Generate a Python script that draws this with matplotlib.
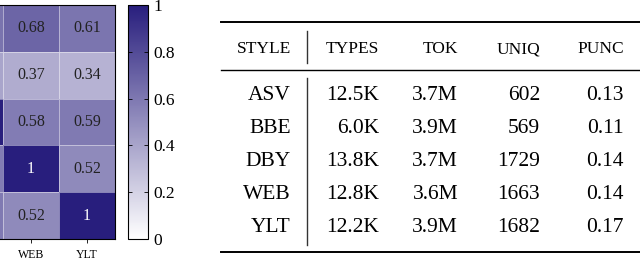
import numpy as np
import matplotlib.pyplot as plt
from matplotlib.colors import LinearSegmentedColormap

plt.rcParams['font.family'] = ['Liberation Serif', 'DejaVu Serif']

# heatmap (only the right end of a wider matrix is visible)
hm_cols = ["DBY", "WEB", "YLT"]
hm_rows = ["ASV", "BBE", "DBY", "WEB", "YLT"]
hm_vals = np.array([
    [0.62, 0.68, 0.61],
    [0.40, 0.37, 0.34],
    [1.00, 0.58, 0.59],
    [0.58, 1.00, 0.52],
    [0.59, 0.52, 1.00],
])

# table
tab_header = ["STYLE", "TYPES", "TOK", "UNIQ", "PUNC"]
tab_style = ["ASV", "BBE", "DBY", "WEB", "YLT"]
tab_types = ["12.5K", "6.0K", "13.8K", "12.8K", "12.2K"]
tab_tok = ["3.7M", "3.9M", "3.7M", "3.6M", "3.9M"]
tab_uniq = ["602", "569", "1729", "1663", "1682"]
tab_punc = ["0.13", "0.11", "0.14", "0.14", "0.17"]

W, H = 640, 260
fig = plt.figure(figsize=(W / 100, H / 100), dpi=100)

cmap = LinearSegmentedColormap.from_list("wp", ["#ffffff", (40/255, 30/255, 125/255)])

# heatmap axes; the first column is mostly cut off on the left
x_left = 1 - 3 / 56
ax = fig.add_axes([0, 21 / H, 115 / W, 234 / H])
mesh = ax.pcolormesh(np.arange(len(hm_cols) + 1), np.arange(len(hm_rows) + 1), hm_vals,
                     cmap=cmap, vmin=0, vmax=1, edgecolors=(1, 1, 1, 0.45), linewidth=0.6)
visible = [j for j in range(len(hm_cols)) if j + 0.5 > x_left]
for i in range(len(hm_rows)):
    for j in visible:
        v = hm_vals[i, j]
        s = "1" if v == 1 else f"{v:.2f}"
        ax.text(j + 0.5, i + 0.5, s, ha="center", va="center", fontsize=11.5,
                color="white" if v > 0.8 else "#222222")
ax.set_xticks([j + 0.5 for j in visible])
ax.set_xticklabels([hm_cols[j] for j in visible], fontsize=8.5)
ax.set_yticks([])
ax.set_xlim(x_left, len(hm_cols))
ax.set_ylim(len(hm_rows), 0)
ax.tick_params(axis="x", length=3, width=0.6, pad=4)
ax.spines["left"].set_visible(False)
for s in ["top", "right", "bottom"]:
    ax.spines[s].set_linewidth(0.8)

# colorbar
cax = fig.add_axes([128 / W, 21 / H, 20 / W, 234 / H])
cb = fig.colorbar(mesh, cax=cax, ticks=[0, 0.2, 0.4, 0.6, 0.8, 1])
cb.ax.set_yticklabels(["0", "0.2", "0.4", "0.6", "0.8", "1"], fontsize=12.5)
cb.ax.tick_params(direction="in", left=True, right=True, length=3, width=0.6, pad=4)
cb.outline.set_linewidth(0.8)

# table axes in pixel units
tx = fig.add_axes([0, 0, 1, 1])
tx.set_xlim(0, W)
tx.set_ylim(H, 0)
tx.axis("off")

col_right = [291, 379, 458, 540, 624]
header_y = 49
row_y0, row_dy = 96, 32.8
vline_x = 307

tx.plot([221, W], [22, 22], color="black", lw=1.4)
tx.plot([221, W], [70, 70], color="black", lw=1.0)
tx.plot([221, W], [252, 252], color="black", lw=1.4)
tx.plot([vline_x, vline_x], [31, 63], color="#333333", lw=1.0)
tx.plot([vline_x, vline_x], [78, 245], color="#333333", lw=1.0)

for x, h in zip(col_right, tab_header):
    tx.text(x, header_y, h, ha="right", va="center", fontsize=12.5)

columns = [tab_style, tab_types, tab_tok, tab_uniq, tab_punc]
for x, col in zip(col_right, columns):
    for i, v in enumerate(col):
        tx.text(x, row_y0 + i * row_dy, v, ha="right", va="center", fontsize=15.5)

fig.savefig("out.png", dpi=100)
